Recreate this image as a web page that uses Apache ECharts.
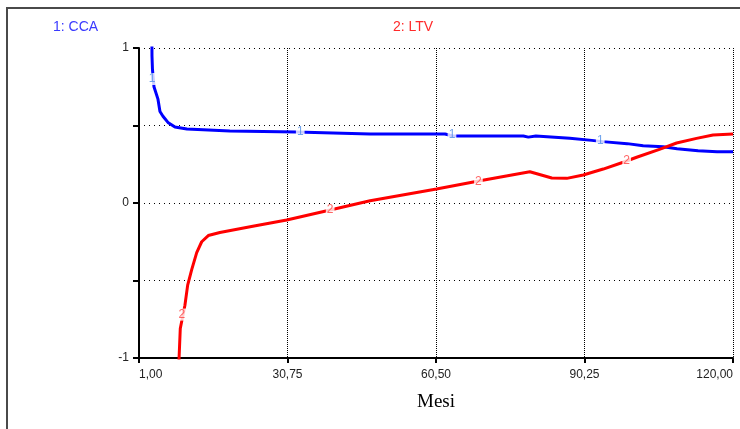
<!DOCTYPE html>
<html>
<head>
<meta charset="utf-8">
<script src="https://cdn.jsdelivr.net/npm/echarts@6/dist/echarts.min.js"></script>
<style>
html,body{margin:0;padding:0;background:#fff;}
#c{width:740px;height:429px;}
</style>
</head>
<body>
<div id="c"></div>
<script>
// Series 1: CCA  (month, value)
var ccaX = [3.55, 3.6, 3.7, 4.0, 4.8, 5.2, 5.8, 6.8, 8.2, 10.6, 19.2, 32.5, 47.3, 62.3, 63.9, 78.0, 79.0, 80.5, 87.3, 91.7, 93.9, 98.8, 102.0, 106.0, 108.8, 113.0, 116.8, 120.0];
var ccaY = [1.30, 0.95, 0.86, 0.75, 0.67, 0.59, 0.56, 0.52, 0.49, 0.477, 0.465, 0.458, 0.445, 0.445, 0.432, 0.432, 0.425, 0.432, 0.417, 0.404, 0.396, 0.383, 0.370, 0.363, 0.350, 0.337, 0.331, 0.331];
// Series 2: LTV (month, value)
var ltvX = [8.9, 9.27, 10.2, 10.75, 11.56, 12.56, 13.56, 14.88, 17.2, 23.8, 30.6, 39.3, 47.3, 60.6, 69.3, 79.3, 83.7, 86.7, 90.0, 94.0, 98.0, 100.7, 105.4, 108.7, 112.7, 116.0, 120.0];
var ltvY = [-1.10, -0.81, -0.66, -0.53, -0.43, -0.32, -0.25, -0.21, -0.19, -0.15, -0.11, -0.045, 0.015, 0.09, 0.144, 0.202, 0.161, 0.159, 0.181, 0.219, 0.263, 0.295, 0.348, 0.387, 0.417, 0.439, 0.445];
// Inline series markers
var ccaMarkX = [3.6, 33.3, 63.7, 93.4];
var ccaMarkY = [0.80, 0.457, 0.44, 0.40];
var ltvMarkX = [9.6, 39.3, 69.0, 98.7];
var ltvMarkY = [-0.72, -0.045, 0.137, 0.27];
// Axis
var xMin = 1, xMax = 120, xStep = 29.75;
var yMin = -1, yMax = 1, yStep = 0.5;
var yLabeled = [1, 0, -1];
var legendNames = ['1: CCA', '2: LTV'];
var xName = 'Mesi';

function zip(a, b) { return a.map(function (v, i) { return [v, b[i]]; }); }

var chart = echarts.init(document.getElementById('c'), null, {renderer: 'canvas'});
var markLabel = function (txt, col) {
  return {
    show: true, position: 'inside', formatter: txt, color: col,
    fontFamily: 'Liberation Sans, Arial, sans-serif', fontSize: 12,
    backgroundColor: '#fff', padding: [0, 1, 0, 1]
  };
};
chart.setOption({
  animation: false,
  backgroundColor: '#fff',
  grid: {left: 139, right: 7, top: 48, bottom: 71, containLabel: false, outerBoundsMode: 'none'},
  graphic: [
    {type: 'rect', shape: {x: 7, y: 8, width: 760, height: 440}, style: {fill: 'none', stroke: '#4a4a4a', lineWidth: 2}, silent: true, z: 0},
    {type: 'text', left: 53, top: 20, style: {text: legendNames[0], fill: '#3a3aff', font: '14px "Liberation Sans", Arial, sans-serif'}},
    {type: 'text', left: 393, top: 20, style: {text: legendNames[1], fill: '#ff2a2a', font: '14px "Liberation Sans", Arial, sans-serif'}}
  ],
  xAxis: {
    type: 'value', min: xMin, max: xMax, interval: xStep,
    name: xName, nameLocation: 'middle', nameGap: 35,
    nameTextStyle: {fontFamily: '"Liberation Serif", "Times New Roman", serif', fontSize: 19, color: '#000'},
    axisLine: {show: true, onZero: false, lineStyle: {color: '#000', width: 2}},
    axisTick: {show: true, inside: false, length: 5, lineStyle: {color: '#000', width: 2}},
    axisLabel: {
      color: '#222', fontFamily: '"Liberation Sans", Arial, sans-serif', fontSize: 12, margin: 11,
      formatter: function (v) { return v.toFixed(2).replace('.', ','); },
      showMinLabel: true, showMaxLabel: true,
      alignMinLabel: 'left', alignMaxLabel: 'right'
    },
    splitLine: {show: true, lineStyle: {color: '#000', type: [1, 1], width: 1}}
  },
  yAxis: {
    type: 'value', min: yMin, max: yMax, interval: yStep,
    axisLine: {show: true, onZero: false, lineStyle: {color: '#000', width: 2}},
    axisTick: {show: true, inside: false, length: 6, lineStyle: {color: '#000', width: 2}},
    axisLabel: {
      color: '#222', fontFamily: '"Liberation Sans", Arial, sans-serif', fontSize: 12, margin: 10,
      formatter: function (v) { return yLabeled.indexOf(v) >= 0 ? String(v) : ''; }
    },
    splitLine: {show: true, lineStyle: {color: '#000', type: [1, 4], width: 1}}
  },
  series: [
    {type: 'line', name: 'CCA', data: zip(ccaX, ccaY), showSymbol: false, symbol: 'none', clip: true,
     lineStyle: {color: '#0000ff', width: 3}, z: 3},
    {type: 'line', name: 'LTV', data: zip(ltvX, ltvY), showSymbol: false, symbol: 'none', clip: true,
     lineStyle: {color: '#ff0000', width: 3}, z: 3},
    {type: 'scatter', data: zip(ccaMarkX, ccaMarkY), symbolSize: 1, itemStyle: {color: 'rgba(0,0,0,0)'},
     label: markLabel('1', '#4f8fe8'), z: 5},
    {type: 'scatter', data: zip(ltvMarkX, ltvMarkY), symbolSize: 1, itemStyle: {color: 'rgba(0,0,0,0)'},
     label: markLabel('2', '#ff4040'), z: 5}
  ]
});
</script>
</body>
</html>
